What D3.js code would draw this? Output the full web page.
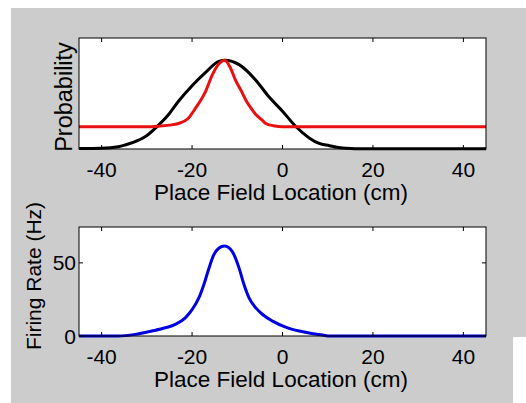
<!DOCTYPE html>
<html>
<head>
<meta charset="utf-8">
<script src="https://cdn.jsdelivr.net/npm/d3@7"></script>
<style>
  body { margin: 0; background: #fff; }
  text { font-family: "Liberation Sans", Arial, sans-serif; fill: #000; }
</style>
</head>
<body>
<script>
/* data */
var xTicks = [-40, -20, 0, 20, 40];
var rateTicks = [0, 50];

/* top panel: black (wide) and red (narrow) probability curves */
var blackLoc = [-45, -40, -36.3, -34.8, -31.8, -30.4, -27.8, -25, -23, -20, -17, -14.1, -12.6, -9.6, -5.9, -3, 0, 3, 5.9, 8.1, 10.4, 12, 14, 16, 45];
var blackProb = [0.004, 0.006, 0.02, 0.036, 0.08, 0.11, 0.2, 0.32, 0.43, 0.57, 0.69, 0.79, 0.8, 0.76, 0.62, 0.47, 0.34, 0.2, 0.1, 0.05, 0.03, 0.015, 0.006, 0.002, 0.002];

var redLoc = [-45, -30, -27.5, -25, -23, -21, -19.2, -17, -15.5, -14, -12.8, -11.5, -10.4, -9.2, -8.1, -7, -5.9, -4.5, -3.7, -2, 0, 45];
var redProb = [0.2, 0.2, 0.205, 0.215, 0.23, 0.27, 0.37, 0.52, 0.67, 0.77, 0.8, 0.73, 0.62, 0.53, 0.44, 0.37, 0.31, 0.26, 0.23, 0.21, 0.2, 0.2];

/* bottom panel: firing rate (Hz) */
var blueLoc = [-45, -36.3, -32.6, -28.9, -25.9, -23.7, -21.5, -20, -18.5, -17.4, -16.3, -15.2, -14.1, -12.8, -11.1, -9.6, -8.5, -7.4, -5.9, -4.4, -2.2, 0.7, 3.7, 6.7, 8.9, 10.4, 45];
var blueRate = [0, 0, 1.1, 3.4, 5.6, 7.9, 12.4, 18, 26, 35, 46, 55.4, 60, 61.5, 57.7, 46.4, 35, 26, 19.2, 14.7, 10.2, 6.1, 3.4, 1.6, 0.7, 0, 0];

var svg = d3.select('body').append('svg')
  .attr('width', 526)
  .attr('height', 403);

/* gray figure background */
svg.append('path')
  .attr('d', 'M11,8H526V337H513V403H11Z')
  .attr('fill', '#cccccc');

var left = 79, right = 486;
var x = d3.scaleLinear().domain([-45, 45]).range([left, right]);

function panel(top, bottom, yDomain) {
  var y = d3.scaleLinear().domain(yDomain).range([bottom, top]);
  var g = svg.append('g');
  g.append('rect')
    .attr('x', left).attr('y', top)
    .attr('width', right - left).attr('height', bottom - top)
    .attr('fill', '#fff');
  return { g: g, y: y, top: top, bottom: bottom };
}

function frame(p, yTicks) {
  var g = p.g;
  g.append('rect')
    .attr('x', left).attr('y', p.top)
    .attr('width', right - left).attr('height', p.bottom - p.top)
    .attr('fill', 'none').attr('stroke', '#000').attr('stroke-width', 1);
  /* inward ticks on top and bottom */
  xTicks.forEach(function (t) {
    g.append('line').attr('x1', x(t)).attr('x2', x(t))
      .attr('y1', p.top).attr('y2', p.top + 4)
      .attr('stroke', '#000');
    g.append('line').attr('x1', x(t)).attr('x2', x(t))
      .attr('y1', p.bottom).attr('y2', p.bottom - 4)
      .attr('stroke', '#000');
    g.append('text')
      .attr('x', x(t)).attr('y', p.bottom + 28)
      .attr('text-anchor', 'middle')
      .attr('font-size', 21)
      .text(t);
  });
  (yTicks || []).forEach(function (t) {
    g.append('line').attr('x1', left).attr('x2', left + 4)
      .attr('y1', p.y(t)).attr('y2', p.y(t)).attr('stroke', '#000');
    g.append('line').attr('x1', right).attr('x2', right - 4)
      .attr('y1', p.y(t)).attr('y2', p.y(t)).attr('stroke', '#000');
    g.append('text')
      .attr('x', left - 3).attr('y', p.y(t) + 7.5)
      .attr('text-anchor', 'end')
      .attr('font-size', 21)
      .text(t);
  });
  g.append('text')
    .attr('x', 281).attr('y', p.bottom + 51)
    .attr('text-anchor', 'middle')
    .attr('font-size', 22.5)
    .text('Place Field Location (cm)');
}

function curve(p, xs, ys, color, width) {
  var pts = xs.map(function (v, i) { return [v, ys[i]]; });
  p.g.append('path')
    .datum(pts)
    .attr('d', d3.line()
      .x(function (d) { return x(d[0]); })
      .y(function (d) { return p.y(d[1]); })
      .curve(d3.curveMonotoneX))
    .attr('fill', 'none')
    .attr('stroke', color)
    .attr('stroke-width', width);
}

/* top panel */
var p1 = panel(38, 149, [0, 1]);
curve(p1, blackLoc, blackProb, '#000', 3);
curve(p1, redLoc, redProb, '#e81010', 3);
frame(p1, null);
svg.append('text')
  .attr('transform', 'translate(72,97) rotate(-90)')
  .attr('text-anchor', 'middle')
  .attr('font-size', 23.5)
  .text('Probability');

/* bottom panel */
var p2 = panel(227, 336, [0, 74.5]);
curve(p2, blueLoc, blueRate, '#0000e0', 3);
frame(p2, rateTicks);
svg.append('text')
  .attr('transform', 'translate(41,276) rotate(-90)')
  .attr('text-anchor', 'middle')
  .attr('font-size', 21)
  .text('Firing Rate (Hz)');
</script>
</body>
</html>
